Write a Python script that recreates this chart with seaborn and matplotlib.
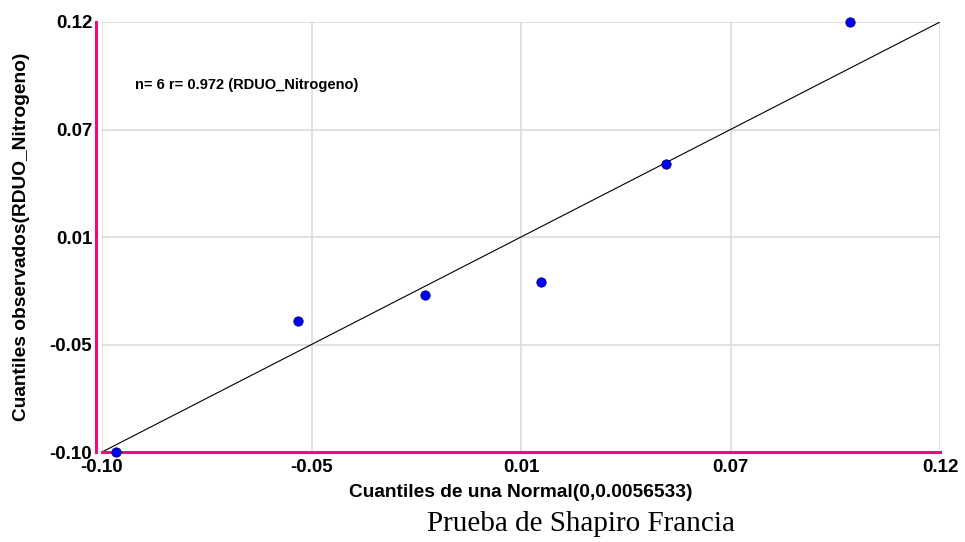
import numpy as np
import pandas as pd
import matplotlib
matplotlib.use('Agg')
import matplotlib.pyplot as plt
import seaborn as sb

# quantiles
normal_q = [-0.0963, -0.0485, -0.0152, 0.0153, 0.0481, 0.0964]
observed_q = [-0.1000, -0.0330, -0.0197, -0.0130, 0.0473, 0.1200]
tick_vals = [-0.10, -0.045, 0.01, 0.065, 0.12]
tick_labels = ['-0.10', '-0.05', '0.01', '0.07', '0.12']
ref_line = [-0.10, 0.12]

pink = '#F5077F'

sb.set_style('white', {'text.color': 'black', 'axes.labelcolor': 'black',
                       'xtick.color': 'black', 'ytick.color': 'black'})
plt.rcParams['font.family'] = ['Liberation Sans', 'DejaVu Sans']

df = pd.DataFrame({'teorico': normal_q, 'observado': observed_q})

fig = plt.figure(figsize=(9.65, 5.42), dpi=100)
ax = fig.add_axes([102 / 965, 1 - 452 / 542, 838 / 965, 430 / 542])

# spine offset first: it resets the ticks
for s in ['top', 'right']:
    ax.spines[s].set_visible(False)
ax.spines['left'].set_position(('outward', 4))
for s in ['left', 'bottom']:
    ax.spines[s].set_color(pink)
    ax.spines[s].set_linewidth(2.2)

sb.lineplot(x=ref_line, y=ref_line, color='black', linewidth=0.8, ax=ax)
sb.scatterplot(data=df, x='teorico', y='observado', s=45, color='#0000FF',
               edgecolor='#000060', linewidth=0.6, zorder=5, clip_on=False, ax=ax)

ax.set_xlim(ref_line)
ax.set_ylim(ref_line)
ax.set_xticks(tick_vals)
ax.set_yticks(tick_vals)
ax.set_xticklabels(tick_labels, fontweight='bold', fontsize=13.5)
ax.set_yticklabels(tick_labels, fontweight='bold', fontsize=13.5)
ax.grid(True, color='#D9D9D9', linewidth=1.1)
ax.set_axisbelow(True)

ax.tick_params(axis='x', direction='in', length=3, width=2, color=pink,
               labelcolor='black', pad=5)
ax.tick_params(axis='y', direction='out', length=2, width=2, color=pink,
               labelcolor='black', pad=1)

ax.set_xlabel('Cuantiles de una Normal(0,0.0056533)', fontweight='bold',
              fontsize=13.8, labelpad=6)
ax.set_ylabel('Cuantiles observados(RDUO_Nitrogeno)', fontweight='bold',
              fontsize=13.8, labelpad=14)

fig.text(135 / 965, 1 - 85 / 542, 'n= 6 r= 0.972 (RDUO_Nitrogeno)',
         fontsize=10.5, fontweight='bold', va='center', ha='left')
fig.text(581 / 965, 1 - 524 / 542, 'Prueba de Shapiro Francia',
         family='Liberation Serif', fontsize=21, ha='center', va='center')

fig.savefig('out.png', dpi=100)
